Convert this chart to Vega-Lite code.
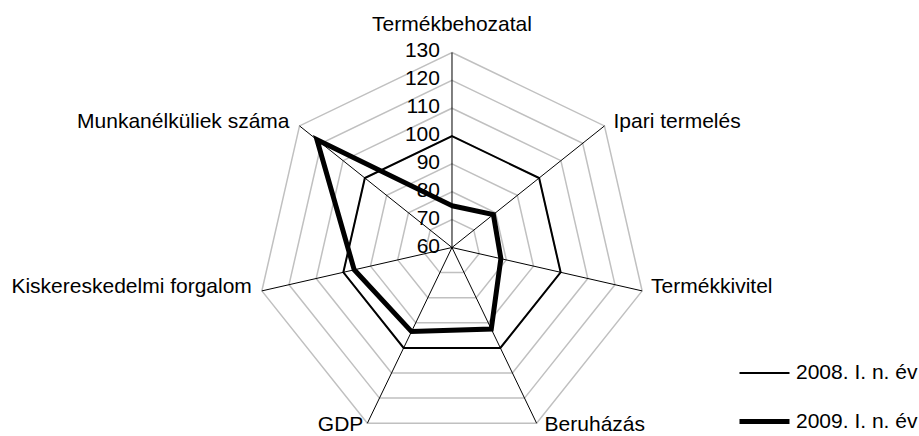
{
  "$schema": "https://vega.github.io/schema/vega-lite/v6.json",
  "width": 919,
  "height": 436,
  "autosize": {"type": "none"},
  "padding": 0,
  "background": "white",
  "config": {"view": {"stroke": null}, "font": "Liberation Sans"},
  "datasets": {
    "levels": [
      {"level": 60, "k": [0, 1, 2, 3, 4, 5, 6]},
      {"level": 70, "k": [0, 1, 2, 3, 4, 5, 6]},
      {"level": 80, "k": [0, 1, 2, 3, 4, 5, 6]},
      {"level": 90, "k": [0, 1, 2, 3, 4, 5, 6]},
      {"level": 100, "k": [0, 1, 2, 3, 4, 5, 6]},
      {"level": 110, "k": [0, 1, 2, 3, 4, 5, 6]},
      {"level": 120, "k": [0, 1, 2, 3, 4, 5, 6]},
      {"level": 130, "k": [0, 1, 2, 3, 4, 5, 6]}
    ],
    "cats": [
      {"k": 0, "cat": "Termékbehozatal"},
      {"k": 1, "cat": "Ipari termelés"},
      {"k": 2, "cat": "Termékkivitel"},
      {"k": 3, "cat": "Beruházás"},
      {"k": 4, "cat": "GDP"},
      {"k": 5, "cat": "Kiskereskedelmi forgalom"},
      {"k": 6, "cat": "Munkanélküliek száma"}
    ],
    "values": [
      {"k": 0, "cat": "Termékbehozatal", "series": "2008. I. n. év", "value": 100},
      {"k": 1, "cat": "Ipari termelés", "series": "2008. I. n. év", "value": 100},
      {"k": 2, "cat": "Termékkivitel", "series": "2008. I. n. év", "value": 100},
      {"k": 3, "cat": "Beruházás", "series": "2008. I. n. év", "value": 100},
      {"k": 4, "cat": "GDP", "series": "2008. I. n. év", "value": 100},
      {"k": 5, "cat": "Kiskereskedelmi forgalom", "series": "2008. I. n. év", "value": 100},
      {"k": 6, "cat": "Munkanélküliek száma", "series": "2008. I. n. év", "value": 100},
      {"k": 0, "cat": "Termékbehozatal", "series": "2009. I. n. év", "value": 75},
      {"k": 1, "cat": "Ipari termelés", "series": "2009. I. n. év", "value": 79},
      {"k": 2, "cat": "Termékkivitel", "series": "2009. I. n. év", "value": 78},
      {"k": 3, "cat": "Beruházás", "series": "2009. I. n. év", "value": 92.5},
      {"k": 4, "cat": "GDP", "series": "2009. I. n. év", "value": 93.5},
      {"k": 5, "cat": "Kiskereskedelmi forgalom", "series": "2009. I. n. év", "value": 96},
      {"k": 6, "cat": "Munkanélküliek száma", "series": "2009. I. n. év", "value": 122}
    ]
  },
  "layer": [
    {
      "data": {"name": "levels"},
      "transform": [
        {"filter": "datum.level > 60"},
        {"flatten": ["k"]},
        {"calculate": "(datum.level-60)*sin(datum.k*2*PI/7)", "as": "X"},
        {"calculate": "(datum.level-60)*cos(datum.k*2*PI/7)", "as": "Y"}
      ],
      "mark": {"type": "line", "interpolate": "linear-closed", "stroke": "#c0c0c0", "strokeWidth": 1.5},
      "encoding": {
        "x": {"field": "X", "type": "quantitative", "scale": {"domain": [-162.24, 167.63], "nice": false, "zero": false}, "axis": null},
        "y": {"field": "Y", "type": "quantitative", "scale": {"domain": [-67.66, 88.84], "nice": false, "zero": false}, "axis": null},
        "detail": {"field": "level", "type": "nominal"},
        "order": {"field": "k", "type": "quantitative"}
      }
    },
    {
      "data": {"name": "cats"},
      "transform": [
        {"calculate": "70*sin(datum.k*2*PI/7)", "as": "X"},
        {"calculate": "70*cos(datum.k*2*PI/7)", "as": "Y"}
      ],
      "mark": {"type": "rule", "stroke": "black", "strokeWidth": 1},
      "encoding": {
        "x": {"field": "X", "type": "quantitative", "scale": {"domain": [-162.24, 167.63], "nice": false, "zero": false}, "axis": null},
        "y": {"field": "Y", "type": "quantitative", "scale": {"domain": [-67.66, 88.84], "nice": false, "zero": false}, "axis": null},
        "x2": {"datum": 0},
        "y2": {"datum": 0}
      }
    },
    {
      "data": {"name": "values"},
      "transform": [
        {"calculate": "(datum.value-60)*sin(datum.k*2*PI/7)", "as": "X"},
        {"calculate": "(datum.value-60)*cos(datum.k*2*PI/7)", "as": "Y"}
      ],
      "mark": {"type": "line", "interpolate": "linear-closed", "color": "black", "strokeJoin": "miter"},
      "encoding": {
        "x": {"field": "X", "type": "quantitative", "scale": {"domain": [-162.24, 167.63], "nice": false, "zero": false}, "axis": null},
        "y": {"field": "Y", "type": "quantitative", "scale": {"domain": [-67.66, 88.84], "nice": false, "zero": false}, "axis": null},
        "detail": {"field": "series", "type": "nominal"},
        "order": {"field": "k", "type": "quantitative"},
        "strokeWidth": {
          "field": "series",
          "type": "nominal",
          "scale": {"domain": ["2008. I. n. év", "2009. I. n. év"], "range": [2, 5]},
          "legend": {
            "title": null,
            "orient": "none",
            "direction": "vertical",
            "legendX": 737,
            "legendY": 347,
            "symbolType": "stroke",
            "symbolSize": 2500,
            "symbolStrokeColor": "black",
            "labelFont": "Liberation Sans",
            "labelFontSize": 21,
            "labelColor": "black",
            "labelOffset": 4,
            "rowPadding": 11
          }
        }
      }
    },
    {
      "data": {"name": "levels"},
      "transform": [
        {"calculate": "datum.level-60", "as": "Y"}
      ],
      "mark": {"type": "text", "align": "right", "baseline": "middle", "dx": -12, "dy": -1, "fontSize": 21, "color": "black"},
      "encoding": {
        "x": {"datum": 0, "type": "quantitative", "scale": {"domain": [-162.24, 167.63], "nice": false, "zero": false}, "axis": null},
        "y": {"field": "Y", "type": "quantitative", "scale": {"domain": [-67.66, 88.84], "nice": false, "zero": false}, "axis": null},
        "text": {"field": "level", "type": "quantitative"}
      }
    },
    {
      "data": {"name": "cats"},
      "transform": [
        {"filter": "datum.k == 0"},
        {"calculate": "70*sin(datum.k*2*PI/7)", "as": "X"},
        {"calculate": "70*cos(datum.k*2*PI/7)", "as": "Y"}
      ],
      "mark": {"type": "text", "align": "center", "baseline": "alphabetic", "dy": -21.6, "fontSize": 21, "color": "black"},
      "encoding": {
        "x": {"field": "X", "type": "quantitative", "scale": {"domain": [-162.24, 167.63], "nice": false, "zero": false}, "axis": null},
        "y": {"field": "Y", "type": "quantitative", "scale": {"domain": [-67.66, 88.84], "nice": false, "zero": false}, "axis": null},
        "text": {"field": "cat", "type": "nominal"}
      }
    },
    {
      "data": {"name": "cats"},
      "transform": [
        {"filter": "datum.k == 1 || datum.k == 2"},
        {"calculate": "70*sin(datum.k*2*PI/7)", "as": "X"},
        {"calculate": "70*cos(datum.k*2*PI/7)", "as": "Y"}
      ],
      "mark": {"type": "text", "align": "left", "baseline": "middle", "dx": 9, "dy": -4, "fontSize": 21, "color": "black"},
      "encoding": {
        "x": {"field": "X", "type": "quantitative", "scale": {"domain": [-162.24, 167.63], "nice": false, "zero": false}, "axis": null},
        "y": {"field": "Y", "type": "quantitative", "scale": {"domain": [-67.66, 88.84], "nice": false, "zero": false}, "axis": null},
        "text": {"field": "cat", "type": "nominal"}
      }
    },
    {
      "data": {"name": "cats"},
      "transform": [
        {"filter": "datum.k == 3"},
        {"calculate": "70*sin(datum.k*2*PI/7)", "as": "X"},
        {"calculate": "70*cos(datum.k*2*PI/7)", "as": "Y"}
      ],
      "mark": {"type": "text", "align": "left", "baseline": "middle", "dx": 8, "dy": 2, "fontSize": 21, "color": "black"},
      "encoding": {
        "x": {"field": "X", "type": "quantitative", "scale": {"domain": [-162.24, 167.63], "nice": false, "zero": false}, "axis": null},
        "y": {"field": "Y", "type": "quantitative", "scale": {"domain": [-67.66, 88.84], "nice": false, "zero": false}, "axis": null},
        "text": {"field": "cat", "type": "nominal"}
      }
    },
    {
      "data": {"name": "cats"},
      "transform": [
        {"filter": "datum.k == 4"},
        {"calculate": "70*sin(datum.k*2*PI/7)", "as": "X"},
        {"calculate": "70*cos(datum.k*2*PI/7)", "as": "Y"}
      ],
      "mark": {"type": "text", "align": "right", "baseline": "middle", "dx": -4, "dy": 2, "fontSize": 21, "color": "black"},
      "encoding": {
        "x": {"field": "X", "type": "quantitative", "scale": {"domain": [-162.24, 167.63], "nice": false, "zero": false}, "axis": null},
        "y": {"field": "Y", "type": "quantitative", "scale": {"domain": [-67.66, 88.84], "nice": false, "zero": false}, "axis": null},
        "text": {"field": "cat", "type": "nominal"}
      }
    },
    {
      "data": {"name": "cats"},
      "transform": [
        {"filter": "datum.k == 5 || datum.k == 6"},
        {"calculate": "70*sin(datum.k*2*PI/7)", "as": "X"},
        {"calculate": "70*cos(datum.k*2*PI/7)", "as": "Y"}
      ],
      "mark": {"type": "text", "align": "right", "baseline": "middle", "dx": -10, "dy": -4, "fontSize": 21, "color": "black"},
      "encoding": {
        "x": {"field": "X", "type": "quantitative", "scale": {"domain": [-162.24, 167.63], "nice": false, "zero": false}, "axis": null},
        "y": {"field": "Y", "type": "quantitative", "scale": {"domain": [-67.66, 88.84], "nice": false, "zero": false}, "axis": null},
        "text": {"field": "cat", "type": "nominal"}
      }
    }
  ]
}
